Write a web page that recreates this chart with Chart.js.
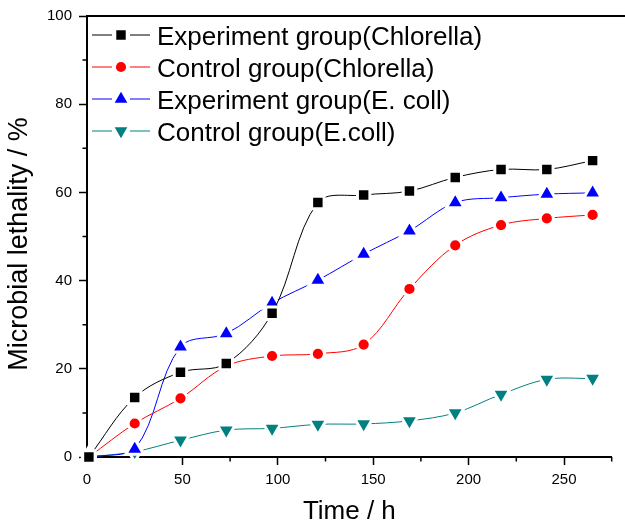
<!DOCTYPE html>
<html><head><meta charset="utf-8">
<script src="https://cdn.jsdelivr.net/npm/chart.js@4/dist/chart.umd.min.js"></script>
<style>html,body{margin:0;padding:0;background:#fff}</style>
</head><body>
<canvas id="c" width="625" height="527" style="width:625px;height:527px;display:block"></canvas>
<script>
// ---- data ----
const timeH = [1, 25, 49, 73, 97, 121, 145, 169, 193, 217, 241, 265];
const expChlorella  = [0, 13.5, 19.2, 21.2, 32.6, 57.7, 59.4, 60.3, 63.4, 65.2, 65.2, 67.2];
const ctrlChlorella = [0, 7.6, 13.3, 20.6, 22.9, 23.4, 25.5, 38.1, 48.0, 52.6, 54.1, 54.9];
const expEcoli      = [0, 1.8, 25.0, 28.0, 34.9, 40.1, 46.0, 51.3, 57.7, 58.8, 59.6, 59.9];
const ctrlEcoli     = [0, 1.2, 3.8, 6.1, 6.5, 7.4, 7.5, 8.2, 10.0, 14.2, 17.6, 17.8];
const seriesLabels = ['Experiment group(Chlorella)', 'Control group(Chlorella)', 'Experiment group(E. coll)', 'Control group(E.coll)'];
const xTickValues = [0, 50, 100, 150, 200, 250];
const xMinorValues = [25, 75, 125, 175, 225, 275];
const yTickValues = [0, 20, 40, 60, 80, 100];
const yMinorValues = [10, 30, 50, 70, 90];
const xTitle = 'Time / h';
const yTitle = 'Microbial lethality / %';

const FONT = '"Liberation Sans", Arial, Helvetica, sans-serif';
Chart.defaults.font.family = FONT;
Chart.defaults.color = '#000';

function series(label, values, color, style, radius, rotation) {
  return {
    label: label,
    data: timeH.map((x, i) => ({ x: x, y: values[i] })),
    borderColor: color, backgroundColor: color, borderWidth: 1,
    pointStyle: style, pointRadius: radius, pointHoverRadius: radius,
    pointRotation: rotation || 0,
    pointBackgroundColor: color, pointBorderColor: '#ffffff', pointBorderWidth: 3,
    pointHoverBorderWidth: 3,
    tension: 0.35, fill: false, clip: false
  };
}

const datasets = [
  series(seriesLabels[0], expChlorella, '#000000', 'rect', 8.8),
  series(seriesLabels[1], ctrlChlorella, '#ff0000', 'circle', 6.6),
  series(seriesLabels[2], expEcoli, '#0000ff', 'triangle', 10.3),
  series(seriesLabels[3], ctrlEcoli, '#008080', 'triangle', 10.3, 180)
];

function drawMarker(ctx, ds, x, y) {
  const opts = { pointStyle: ds.pointStyle, radius: ds.pointRadius, rotation: ds.pointRotation, borderWidth: ds.pointBorderWidth };
  ctx.save();
  ctx.fillStyle = ds.pointBackgroundColor;
  ctx.strokeStyle = ds.pointBorderColor;
  ctx.lineWidth = ds.pointBorderWidth;
  Chart.helpers.drawPoint(ctx, opts, x, y);
  ctx.restore();
}

const decorPlugin = {
  id: 'decor',
  beforeDatasetsDraw(chart) {
    const ctx = chart.ctx, xs = chart.scales.x, ys = chart.scales.y, ca = chart.chartArea;
    ctx.save();
    ctx.strokeStyle = '#000';
    ctx.lineWidth = 1.5;
    ctx.beginPath();
    xMinorValues.forEach(v => {
      if (v > xs.max) return;
      const px = xs.getPixelForValue(v);
      ctx.moveTo(px, ca.bottom); ctx.lineTo(px, ca.bottom + 4.5);
    });
    yMinorValues.forEach(v => {
      const py = ys.getPixelForValue(v);
      ctx.moveTo(ca.left, py); ctx.lineTo(ca.left - 4.5, py);
    });
    ctx.stroke();
    // top frame line
    ctx.lineWidth = 2;
    ctx.beginPath();
    ctx.moveTo(ca.left - 1, ca.top); ctx.lineTo(chart.width, ca.top);
    ctx.stroke();
    ctx.restore();
  },
  afterDatasetsDraw(chart) {
    const ctx = chart.ctx;
    const rowY0 = 35, rowStep = 32;
    ctx.save();
    chart.data.datasets.forEach((ds, i) => {
      const cy = rowY0 + i * rowStep;
      ctx.strokeStyle = ds.borderColor;
      ctx.lineWidth = 1;
      ctx.beginPath();
      ctx.moveTo(92, cy); ctx.lineTo(112, cy);
      ctx.moveTo(130, cy); ctx.lineTo(150, cy);
      ctx.stroke();
      drawMarker(ctx, ds, 121, cy);
      ctx.fillStyle = '#000';
      ctx.font = '26px ' + FONT;
      ctx.textAlign = 'left';
      ctx.textBaseline = 'alphabetic';
      ctx.fillText(ds.label, 157, cy + 10);
    });
    ctx.restore();
  }
};

new Chart(document.getElementById('c'), {
  type: 'line',
  data: { datasets: datasets },
  plugins: [decorPlugin],
  options: {
    responsive: false, animation: false, devicePixelRatio: 1,
    layout: { padding: { top: 16, right: 0, bottom: 0, left: 0 } },
    plugins: { legend: { display: false }, tooltip: { enabled: false } },
    events: [],
    scales: {
      x: {
        type: 'linear', min: 0, max: 275,
        afterFit(s) { s.height = 70; },
        afterBuildTicks(s) { s.ticks = xTickValues.map(v => ({ value: v })); },
        ticks: { font: { size: 15 }, color: '#000', padding: 6, maxRotation: 0, autoSkip: false },
        grid: { drawOnChartArea: false, drawTicks: true, tickLength: 8, tickWidth: 1.5, tickColor: '#000' },
        border: { display: true, color: '#000', width: 2 },
        title: { display: true, text: xTitle, color: '#000', font: { size: 26, lineHeight: 1 }, padding: { top: 0, bottom: 2 } }
      },
      y: {
        type: 'linear', min: 0, max: 100,
        afterFit(s) { s.width = 87; },
        afterBuildTicks(s) { s.ticks = yTickValues.map(v => ({ value: v })); },
        ticks: { font: { size: 15 }, color: '#000', padding: 7 },
        grid: { drawOnChartArea: false, drawTicks: true, tickLength: 8, tickWidth: 1.5, tickColor: '#000' },
        border: { display: true, color: '#000', width: 2 },
        title: { display: true, text: yTitle + '  ', color: '#000', font: { size: 27, lineHeight: 1 }, padding: { top: 6, bottom: 0 } }
      }
    }
  }
});
</script>
</body></html>
